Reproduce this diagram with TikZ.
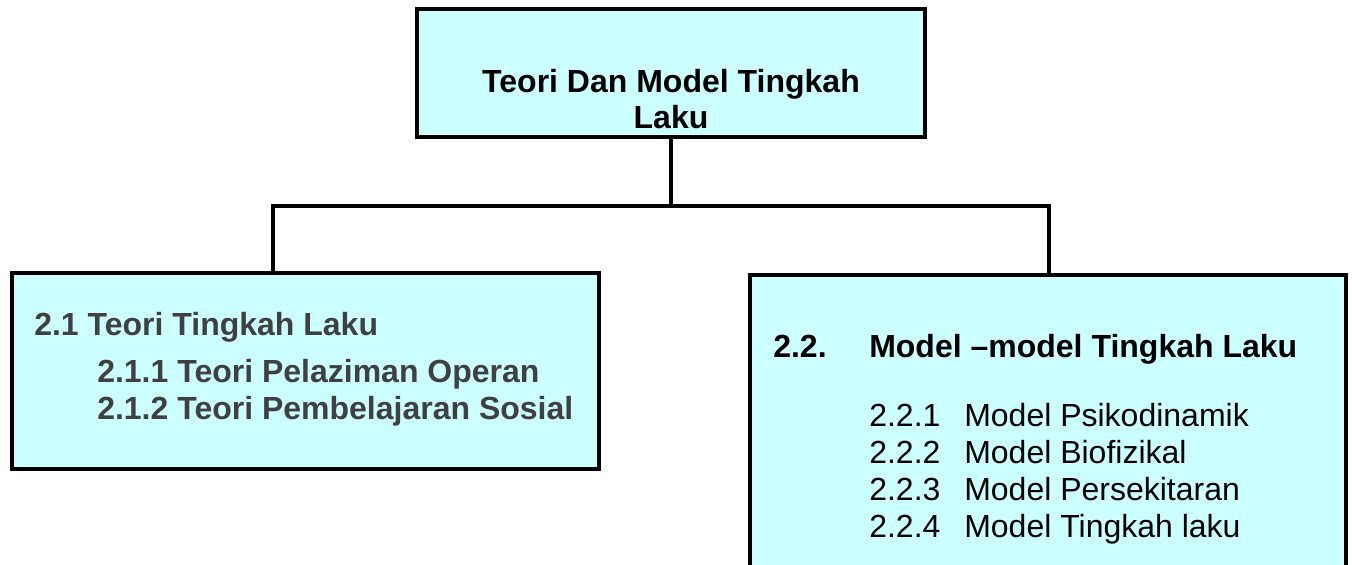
\documentclass[tikz,border=0pt]{standalone}
\usepackage{fontspec}
\setmainfont{Liberation Sans}
\definecolor{boxfill}{HTML}{CCFFFF}
\definecolor{greytext}{HTML}{404040}
\begin{document}
\begin{tikzpicture}[x=0.75pt,y=-0.75pt,
  box/.style={draw=black, line width=3pt, fill=boxfill, rectangle, inner sep=0pt},
  conn/.style={draw=black, line width=3pt},
  basetxt/.style={inner sep=0pt, font=\fontsize{24pt}{28pt}\selectfont},
  headtxt/.style={basetxt, anchor=base, font=\fontsize{24pt}{28pt}\selectfont\bfseries},
  lefttxt/.style={basetxt, anchor=base west, text=greytext, font=\fontsize{24pt}{28pt}\selectfont\bfseries},
  rightbold/.style={basetxt, anchor=base west, font=\fontsize{24pt}{28pt}\selectfont\bfseries},
  righttxt/.style={basetxt, anchor=base west}]
\useasboundingbox (0,0) rectangle (1352,564);
\clip (0,0) rectangle (1352,564);
% boxes
\node[box, minimum width=381pt, minimum height=96pt] (top) at (671,73) {};
\node[box, minimum width=440.25pt, minimum height=147pt] (left) at (305.5,370.5) {};
\node[box, minimum width=447pt, minimum height=258.75pt] (right) at (1048,447.5) {};
% connectors
\coordinate (jc) at (671,206);
\coordinate (jl) at (273,206);
\coordinate (jr) at (1049,206);
\draw[conn] (top.south) -- (jc);
\draw[conn] (jl |- left.north) -- (jl) -- (jr) -- (jr |- right.north);
% top text
\node[headtxt] (t1) at (671,92) {Teori Dan Model Tingkah};
\node[headtxt] (t2) at (671,128) {Laku};
% left text
\node[lefttxt] (l1) at (34,335) {2.1 Teori Tingkah Laku};
\node[lefttxt] (l2) at (97,382) {2.1.1 Teori Pelaziman Operan};
\node[lefttxt] (l3) at (97,419) {2.1.2 Teori Pembelajaran Sosial};
% right text
\node[rightbold] (r0) at (773,357) {2.2.};
\node[rightbold] (r1) at (869,357) {Model –model Tingkah Laku};
\node[righttxt] (n1) at (869,426) {2.2.1};
\node[righttxt] (m1) at (964,426) {Model Psikodinamik};
\node[righttxt] (n2) at (869,463) {2.2.2};
\node[righttxt] (m2) at (964,463) {Model Biofizikal};
\node[righttxt] (n3) at (869,500) {2.2.3};
\node[righttxt] (m3) at (964,500) {Model Persekitaran};
\node[righttxt] (n4) at (869,537) {2.2.4};
\node[righttxt] (m4) at (964,537) {Model Tingkah laku};
\end{tikzpicture}
\end{document}
